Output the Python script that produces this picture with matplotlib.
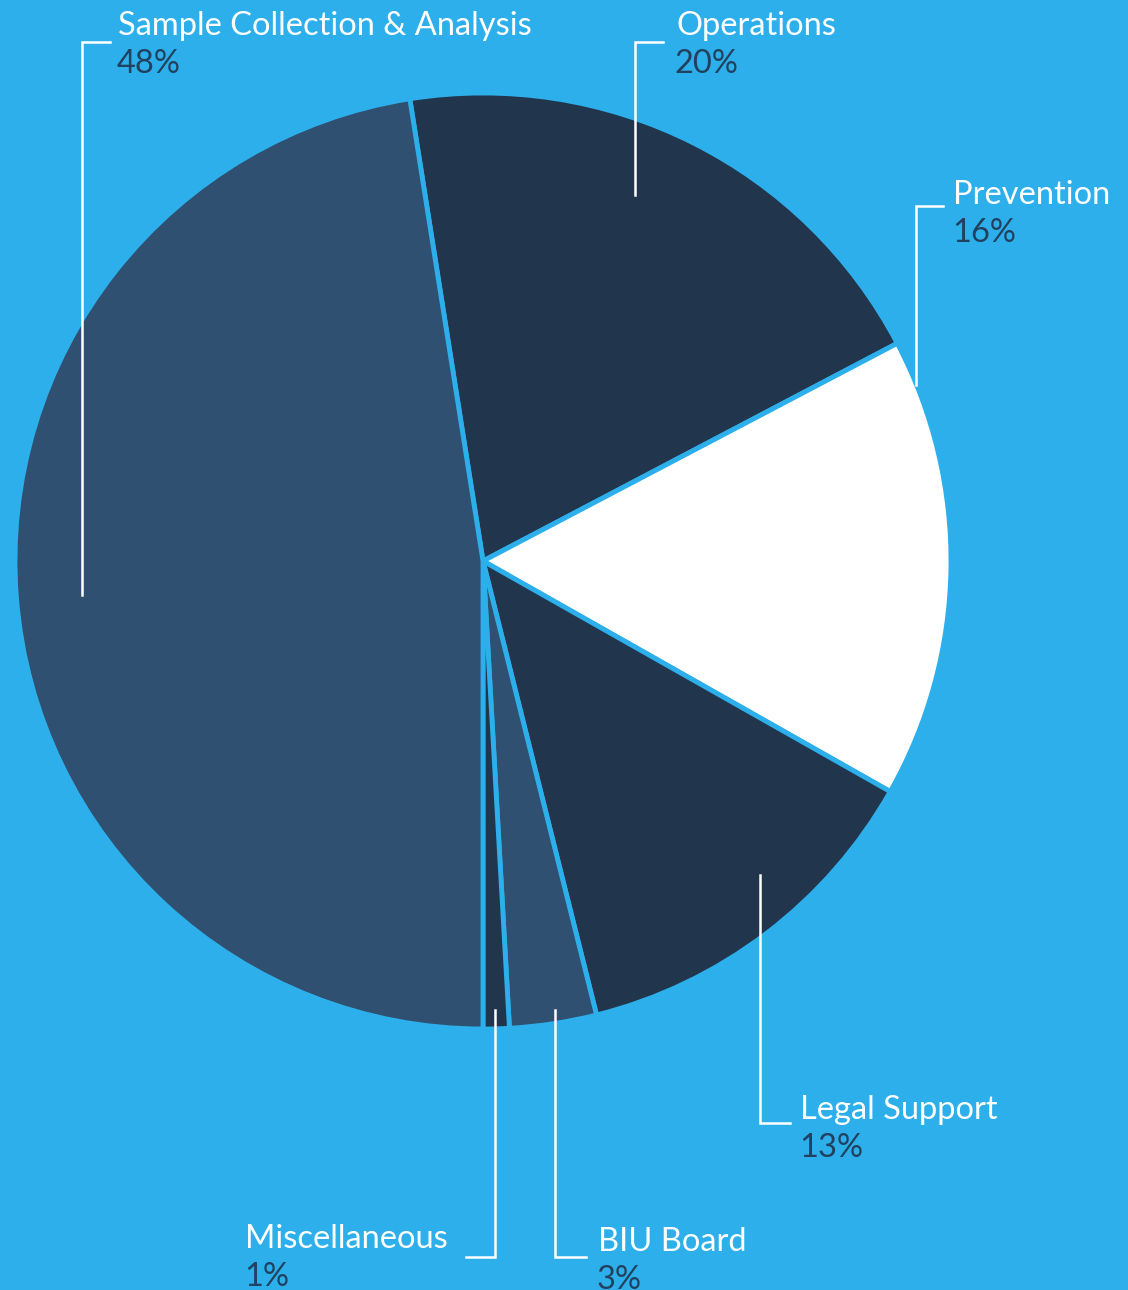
import matplotlib.pyplot as plt

# slices, clockwise from the top
names = ["Operations", "Prevention", "Legal Support", "BIU Board", "Miscellaneous", "Sample Collection & Analysis"]
pct_labels = ["20%", "16%", "13%", "3%", "1%", "48%"]
shares = [19.8, 15.9, 12.9, 3.0, 0.9, 47.5]
colors = ["#21364c", "#ffffff", "#21364c", "#2f5070", "#21364c", "#2f5070"]

bg = "#2cafea"
W, H = 1128, 1290

fig = plt.figure(figsize=(11.28, 12.9), dpi=100, facecolor=bg)
ax = fig.add_axes([0, 0, 1, 1])
ax.set_facecolor(bg)

ax.pie(shares, colors=colors, startangle=99, counterclock=False,
       center=(483, H - 561), radius=468, frame=True,
       wedgeprops=dict(edgecolor=bg, linewidth=3.5))
ax.set_xlim(0, W)
ax.set_ylim(0, H)
ax.set_aspect("equal")
ax.axis("off")

# label layout in pixel coords (from top): text x, name baseline y, leader polyline
layout = {
    "Sample Collection & Analysis": (118, 35, [(110, 42), (82, 42), (82, 595)]),
    "Operations": (676, 35, [(663, 42), (635, 42), (635, 195)]),
    "Prevention": (953, 204, [(943, 206), (916, 206), (916, 385)]),
    "Legal Support": (800, 1119, [(790, 1123), (760, 1123), (760, 875)]),
    "BIU Board": (598, 1251, [(586, 1257), (555, 1257), (555, 1010)]),
    "Miscellaneous": (245, 1248, [(466, 1257), (495, 1257), (495, 1010)]),
}

for name, pct in zip(names, pct_labels):
    tx, ty, pts = layout[name]
    ax.text(tx, H - ty, name, color="white", fontsize=23.5, family="Lato",
            ha="left", va="baseline")
    ax.text(tx - 1, H - ty - 38, pct, color="#21415f", fontsize=23.5, family="Lato",
            ha="left", va="baseline")
    xs = [p[0] for p in pts]
    ys = [H - p[1] for p in pts]
    ax.plot(xs, ys, color="white", linewidth=1.8, solid_joinstyle="miter")

fig.savefig("out.png", dpi=100, facecolor=bg)
